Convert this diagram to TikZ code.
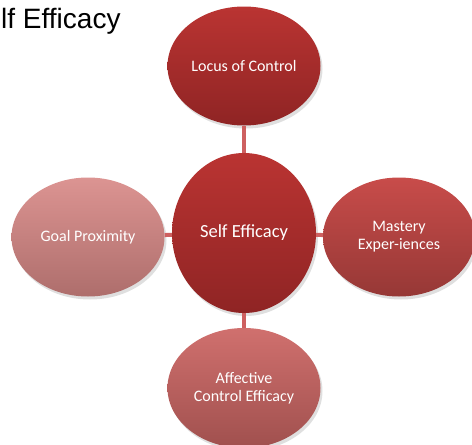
\documentclass[tikz,border=0pt]{standalone}
\usepackage{fontspec}
\setmainfont{Carlito}
\newfontfamily\titlefont{Liberation Sans}
\usetikzlibrary{shapes.geometric,shadows}
\definecolor{linkred}{RGB}{206,96,96}
\tikzset{
  bubble/.style={ellipse, text=white, align=center, inner sep=0pt,
    font=\fontsize{16}{18}\selectfont,
    minimum width=153pt, minimum height=119pt,
    drop shadow={opacity=0.25, shadow xshift=2pt, shadow yshift=-3pt}},
  link/.style={line width=4pt, draw=linkred}
}
\begin{document}
\begin{tikzpicture}[x=1pt,y=-1pt]
  \useasboundingbox (0,0) rectangle (472,445);
  \node[anchor=base west, inner sep=0pt, font=\titlefont\fontsize{28}{30}\selectfont] (title) at (1,28) {lf Efficacy};
  % outer bubbles
  \node[bubble, top color={rgb,255:red,186;green,52;blue,50}, bottom color={rgb,255:red,143;green,36;blue,36}] (locus) at (244,66) {Locus of Control};
  \node[bubble, top color={rgb,255:red,220;green,148;blue,146}, bottom color={rgb,255:red,174;green,110;blue,108}] (goal) at (88,237) {Goal Proximity};
  \node[bubble, minimum width=152pt, top color={rgb,255:red,200;green,76;blue,74}, bottom color={rgb,255:red,150;green,56;blue,54}] (mastery) at (399,237) {Mastery\\Exper-iences};
  \node[bubble, minimum height=120pt, top color={rgb,255:red,208;green,112;blue,110}, bottom color={rgb,255:red,160;green,80;blue,78}] (affective) at (244,388) {Affective\\Control Efficacy};
  % centre
  \node[bubble, minimum width=144pt, minimum height=160pt, font=\fontsize{18.5}{21}\selectfont, top color={rgb,255:red,186;green,52;blue,50}, bottom color={rgb,255:red,143;green,36;blue,36}] (self) at (244,233) {Self Efficacy};
  \draw[link] (locus) -- (self);
  \draw[link] (goal) -- (self);
  \draw[link] (mastery) -- (self);
  \draw[link] (affective) -- (self);
\end{tikzpicture}
\end{document}
